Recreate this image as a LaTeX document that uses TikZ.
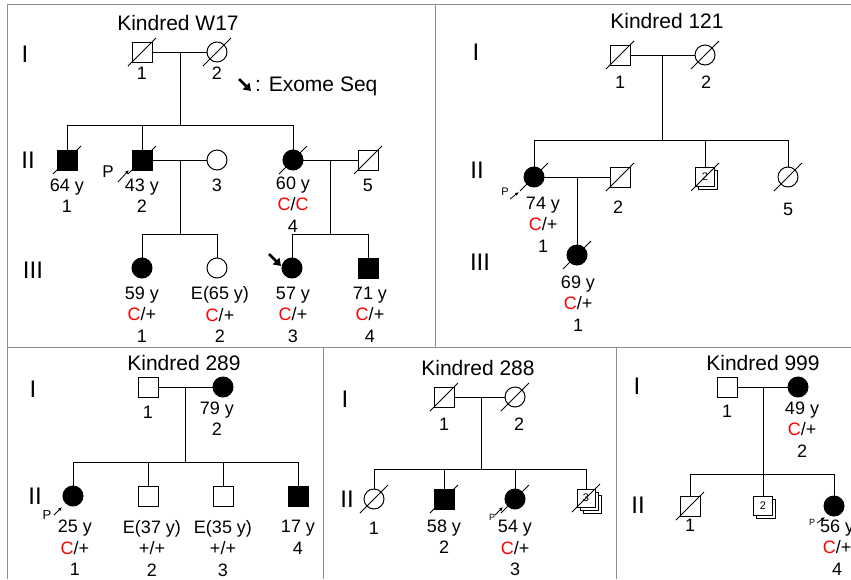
\documentclass[tikz,border=0pt]{standalone}
\usepackage{fontspec}
\setmainfont{Liberation Sans}
\usetikzlibrary{arrows.meta,shadows,calc}

\newcommand{\mutC}{\textcolor{red}{C}}

\tikzset{
  sym/.style={draw, line width=1pt, minimum size=20pt, inner sep=0pt, outer sep=0pt, fill=white},
  male/.style={sym, rectangle},
  female/.style={sym, circle},
  aff/.style={fill=black},
  multi/.style={sym, rectangle, minimum size=19pt, font=\fontsize{11}{11}\selectfont,
    copy shadow={shadow xshift=3pt, shadow yshift=-3pt}},
  multithree/.style={sym, rectangle, minimum size=18pt, font=\fontsize{11}{11}\selectfont,
    double copy shadow={shadow xshift=3pt, shadow yshift=-3pt}},
  lbl/.style={font=\fontsize{18}{21.5}\selectfont, align=center, inner sep=0pt, anchor=north},
  title/.style={font=\fontsize{21}{24}\selectfont, inner sep=0pt},
  gen/.style={font=\fontsize{24}{24}\selectfont, inner sep=0pt},
  line/.style={line width=1pt},
  frame/.style={black!45, line width=1pt},
  exome/.style={line width=2.6pt, -{Triangle[length=7pt,width=9pt]}},
  parrow/.style={line width=0.8pt, -{Latex[length=4pt,width=3.5pt]}},
}

\begin{document}
\begin{tikzpicture}[x=1pt, y=-1pt]
\clip (0,0) rectangle (851,579);

% Frames
\draw[frame] (7,4) -- (851,4);
\draw[frame] (7,4) -- (7,579);
\draw[frame] (435,4) -- (435,347);
\draw[frame] (7,347) -- (851,347);
\draw[frame] (323,347) -- (323,579);
\draw[frame] (616,347) -- (616,579);

% Kindred W17
\node[title] (wT) at (178,22.5) {Kindred W17};
\node[gen] (wg1) at (25,54) {I};
\node[gen] (wg2) at (28,160) {II};
\node[gen] (wg3) at (33,270) {III};

\node[male] (wI1) at (142,52) {};
\node[female] (wI2) at (217,52) {};
\node[male,aff] (wII1) at (67,160) {};
\node[male,aff] (wII2) at (142,160) {};
\node[female] (wII3) at (217,160) {};
\node[female,aff] (wII4) at (293,160) {};
\node[male] (wII5) at (368,160) {};
\node[female,aff] (wIII1) at (142,268) {};
\node[female] (wIII2) at (217,268) {};
\node[female,aff] (wIII3) at (292,268) {};
\node[male,aff] (wIII4) at (368,268) {};

\coordinate (wm1) at (180,52);
\coordinate (ws1) at (180,125);
\coordinate (wm2) at (180,160);
\coordinate (ws2) at (180,234);
\coordinate (wm3) at (330,160);
\coordinate (ws3) at (330,234);
\draw[line] (wI1) -- (wI2);
\draw[line] (wII2) -- (wII3);
\draw[line] (wII4) -- (wII5);
\draw[line] (wm1) -- (ws1);
\draw[line] (wm2) -- (ws2);
\draw[line] (wm3) -- (ws3);
\draw[line] (wII1.north |- ws1) -- (wII4.north |- ws1);
\draw[line] (wIII1.north |- ws2) -- (wIII2.north |- ws2);
\draw[line] (wIII3.north |- ws3) -- (wIII4.north |- ws3);
\foreach \c in {wII1,wII2,wII4} \draw[line] (\c.north |- ws1) -- (\c.north);
\foreach \c in {wIII1,wIII2} \draw[line] (\c.north |- ws2) -- (\c.north);
\foreach \c in {wIII3,wIII4} \draw[line] (\c.north |- ws3) -- (\c.north);

\node[lbl] (wlI1) at (142,66.5) {1};
\node[lbl] (wlI2) at (217,66.5) {2};
\node[lbl] (wlII1) at (67,178.5) {64 y\\1};
\node[lbl] (wlII2) at (142,178.5) {43 y\\2};
\node[lbl] (wlII3) at (217,178.5) {3};
\node[lbl] (wlII4) at (293,176.5) {60 y\\\mutC/\mutC\\4};
\node[lbl] (wlII5) at (368,178.5) {5};
\node[lbl] (wlIII1) at (142,286.5) {59 y\\\mutC/+\\1};
\node[lbl] (wlIII2) at (220,286.5) {E(65 y)\\\mutC/+\\2};
\node[lbl] (wlIII3) at (293,286.5) {57 y\\\mutC/+\\3};
\node[lbl] (wlIII4) at (370,286.5) {71 y\\\mutC/+\\4};

% exome legend
\coordinate (exA) at (239,79);
\coordinate (exB) at (251,91);
\draw[exome] (exA) -- (exB);
\node[title, anchor=base west] (exT) at (255,91) {: Exome Seq};
\draw[exome] ($(wIII3.center)+(-23,-14)$) -- ($(wIII3.center)+(-11,-2)$);

% Kindred 121
\node[title] (aT) at (667,21) {Kindred 121};
\node[gen] (ag1) at (476,52) {I};
\node[gen] (ag2) at (477,170) {II};
\node[gen] (ag3) at (480,262) {III};

\node[male] (aI1) at (620,55) {};
\node[female] (aI2) at (705,55) {};
\node[female,aff] (aII1) at (534,177) {};
\node[male] (aII2) at (620,177) {};
\node[multi] (aII3) at (705,177) {2};
\node[female] (aII5) at (788,177) {};
\node[female,aff] (aIII1) at (577,255) {};

\coordinate (am1) at (662,55);
\coordinate (as1) at (662,140);
\coordinate (am2) at (577,177);
\draw[line] (aI1) -- (aI2);
\draw[line] (aII1) -- (aII2);
\draw[line] (am1) -- (as1);
\draw[line] (aII1.north |- as1) -- (aII5.north |- as1);
\foreach \c in {aII1,aII3,aII5} \draw[line] (\c.north |- as1) -- (\c.north);
\draw[line] (am2) -- (aIII1.north);

\node[lbl] (alI1) at (620,75.5) {1};
\node[lbl] (alI2) at (706,75.5) {2};
\node[lbl] (alII1) at (543,196.5) {74 y\\\mutC/+\\1};
\node[lbl] (alII2) at (618,200.5) {2};
\node[lbl] (alII5) at (788,202.5) {5};
\node[lbl] (alIII1) at (578,275.5) {69 y\\\mutC/+\\1};

% Kindred 289
\node[title] (bT) at (184,362.5) {Kindred 289};
\node[gen] (bg1) at (33,389) {I};
\node[gen] (bg2) at (35,496) {II};

\node[male] (bI1) at (148,387) {};
\node[female,aff] (bI2) at (223,387) {};
\node[female,aff] (bII1) at (73,496) {};
\node[male] (bII2) at (148,496) {};
\node[male] (bII3) at (223,496) {};
\node[male,aff] (bII4) at (298,496) {};

\coordinate (bm1) at (185,387);
\coordinate (bs1) at (185,462);
\draw[line] (bI1) -- (bI2);
\draw[line] (bm1) -- (bs1);
\draw[line] (bII1.north |- bs1) -- (bII4.north |- bs1);
\foreach \c in {bII1,bII2,bII3,bII4} \draw[line] (\c.north |- bs1) -- (\c.north);

\node[lbl] (blI1) at (148,405.5) {1};
\node[lbl] (blI2) at (217,401.5) {79 y\\2};
\node[lbl] (blII1) at (75,520) {25 y\\\mutC/+\\1};
\node[lbl] (blII2) at (152,520) {E(37 y)\\+/+\\2};
\node[lbl] (blII3) at (223,520) {E(35 y)\\+/+\\3};
\node[lbl] (blII4) at (298,520) {17 y\\4};

% Kindred 288
\node[title] (cT) at (478,367.5) {Kindred 288};
\node[gen] (cg1) at (345,399) {I};
\node[gen] (cg2) at (347,499) {II};

\node[male] (cI1) at (444,397) {};
\node[female] (cI2) at (515,397) {};
\node[female] (cII1) at (374,499) {};
\node[male,aff] (cII2) at (444,499) {};
\node[female,aff] (cII3) at (515,499) {};
\node[multithree] (cII4) at (586,498) {3};

\coordinate (cm1) at (481,397);
\coordinate (cs1) at (481,469);
\draw[line] (cI1) -- (cI2);
\draw[line] (cm1) -- (cs1);
\draw[line] (cII1.north |- cs1) -- (cII4.north |- cs1);
\foreach \c in {cII1,cII2,cII3,cII4} \draw[line] (\c.north |- cs1) -- (\c.north);

\node[lbl] (clI1) at (444,417.5) {1};
\node[lbl] (clI2) at (519,417.5) {2};
\node[lbl] (clII1) at (374,521.5) {1};
\node[lbl] (clII2) at (444,519.5) {58 y\\2};
\node[lbl] (clII3) at (515,520) {54 y\\\mutC/+\\3};

% Kindred 999
\node[title] (dT) at (763,362.5) {Kindred 999};
\node[gen] (dg1) at (637,386) {I};
\node[gen] (dg2) at (638,505) {II};

\node[male] (dI1) at (727,387) {};
\node[female,aff] (dI2) at (798,387) {};
\node[male] (dII1) at (690,506) {};
\node[multi] (dII2) at (763,506) {2};
\node[female,aff] (dII4) at (834,506) {};

\coordinate (dm1) at (763,387);
\coordinate (ds1) at (763,474);
\draw[line] (dI1) -- (dI2);
\draw[line] (dm1) -- (ds1);
\draw[line] (dII1.north |- ds1) -- (dII4.north |- ds1);
\foreach \c in {dII1,dII2,dII4} \draw[line] (\c.north |- ds1) -- (\c.north);

\node[lbl] (dlI1) at (727,404.5) {1};
\node[lbl] (dlI2) at (802,401.5) {49 y\\\mutC/+\\2};
\node[lbl] (dlII1) at (690,518.5) {1};
\node[lbl] (dlII4) at (837,519.5) {56 y\\\mutC/+\\4};

% Deceased
\foreach \n in {wI1,wI2,wII1,wII2,wII4,wII5,aI1,aI2,aII1,aII2,aII3,aII5,aIII1,cI1,cI2,cII1,cII2,cII3,cII4,dII1}
  \draw[line] (\n.center) +(-14,14) -- +(14,-14);

% Probands
\foreach \n/\px/\py/\fs/\ax/\ay/\bx/\by in {wII2/-34/12/17/-24/22/-13/10, aII1/-29/15/11/-24/22/-15/15, bII1/-26/19/13/-19/19/-11/11, cII3/-23/18/9/-20/16/-12/8, dII4/-22/16/9/-17/17/-9/11} {
  \node[font=\fontsize{\fs}{\fs}\selectfont, inner sep=0pt] (\n p) at ($(\n.center)+(\px,\py)$) {P};
  \draw[parrow] ($(\n.center)+(\ax,\ay)$) -- ($(\n.center)+(\bx,\by)$);
}
\end{tikzpicture}
\end{document}
